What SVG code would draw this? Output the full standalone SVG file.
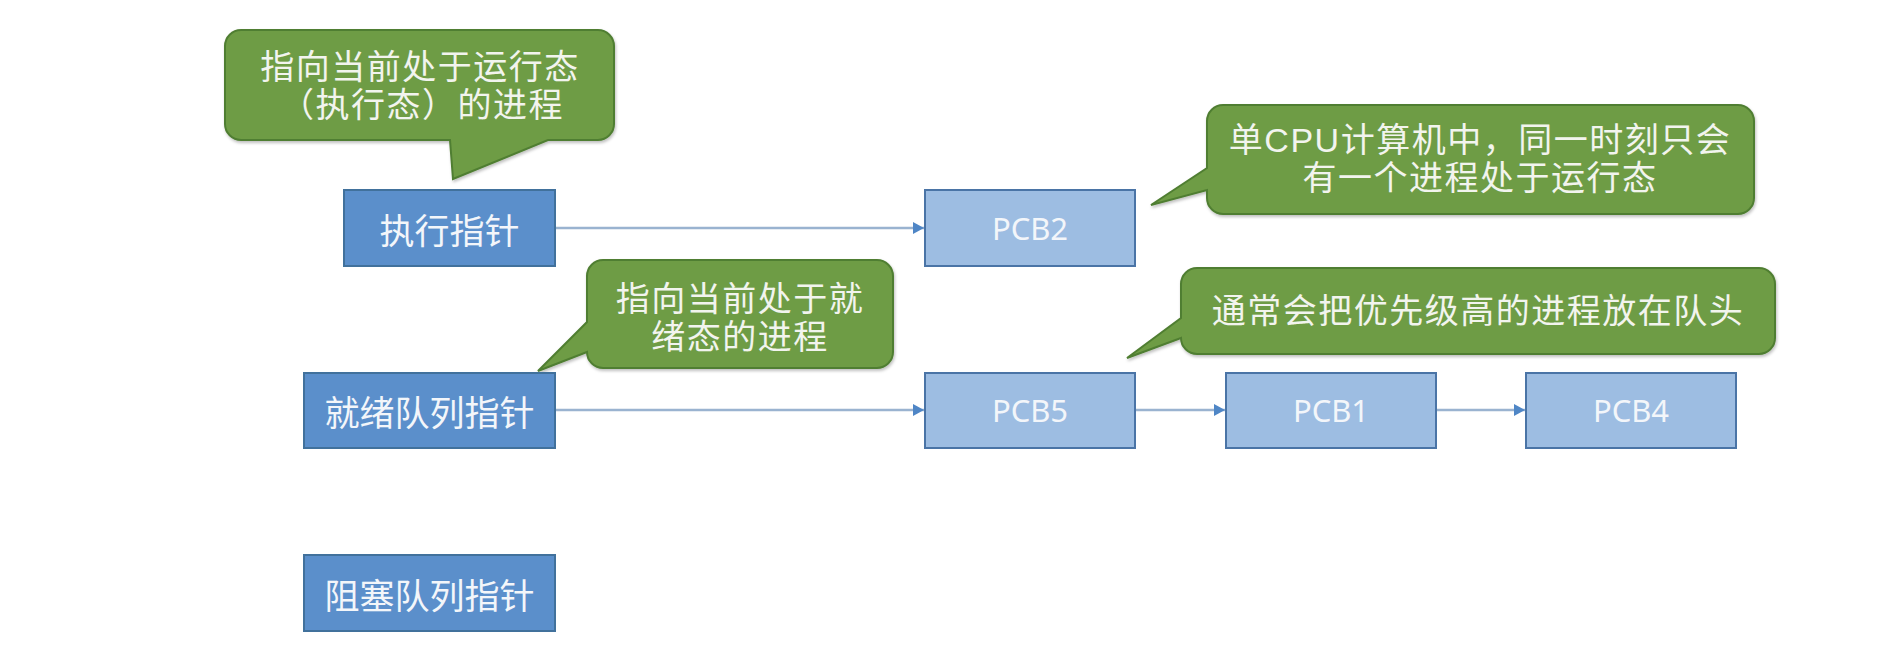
<svg xmlns="http://www.w3.org/2000/svg" width="1899" height="645" viewBox="0 0 1899 645">
<defs>
<marker id="ah" markerUnits="userSpaceOnUse" markerWidth="12" markerHeight="12" refX="11" refY="6" orient="auto">
<path d="M0,0 L11,6 L0,12 Z" fill="#4F86C6"/>
</marker>
<filter id="sh" x="-5%" y="-5%" width="110%" height="120%">
<feDropShadow dx="1" dy="2" stdDeviation="1.5" flood-color="#000" flood-opacity="0.25"/>
</filter>
<style>
.dark{fill:#5B8FCB;stroke:#41719C;stroke-width:2}
.light{fill:#9DBDE2;stroke:#4A74A6;stroke-width:2}
.bub{fill:#6E9C44;stroke:#507E32;stroke-width:2;filter:url(#sh)}
.t{font-family:"Noto Sans CJK SC","Noto Sans",sans-serif;font-size:35px;fill:#F3F6FA;text-anchor:middle;dominant-baseline:central}
.p{font-family:"Noto Sans","Noto Sans CJK SC",sans-serif;font-size:31px;fill:#F3F6FA;text-anchor:middle;dominant-baseline:central}
.bt{font-family:"Liberation Sans","Noto Sans CJK SC",sans-serif;font-size:34px;letter-spacing:1.5px;fill:#F2F4EE;text-anchor:middle;dominant-baseline:central}
.c{stroke:#9AB3D0;stroke-width:2.5;fill:none;marker-end:url(#ah)}
</style>
</defs>
<rect width="1899" height="645" fill="#FFFFFF"/>
<g id="connectors">
<line class="c" x1="556" y1="228" x2="924" y2="228"/>
<line class="c" x1="556" y1="410" x2="924" y2="410"/>
<line class="c" x1="1136" y1="410" x2="1225" y2="410"/>
<line class="c" x1="1437" y1="410" x2="1525" y2="410"/>
</g>
<g id="callout-run">
<path class="bub" d="M241,30 H598 A16,16 0 0 1 614,46 V124 A16,16 0 0 1 598,140 H548 L453,179 L450,140 H241 A16,16 0 0 1 225,124 V46 A16,16 0 0 1 241,30 Z"/>
<text class="bt" x="420" y="67">指向当前处于运行态</text>
<text class="bt" x="422" y="105">（执行态）的进程</text>
</g>
<g id="callout-ready">
<path class="bub" d="M603,260 H877 A16,16 0 0 1 893,276 V352 A16,16 0 0 1 877,368 H603 A16,16 0 0 1 587,352 L538,371 L587,322 V276 A16,16 0 0 1 603,260 Z"/>
<text class="bt" x="740" y="299">指向当前处于就</text>
<text class="bt" x="740" y="337">绪态的进程</text>
</g>
<g id="callout-cpu">
<path class="bub" d="M1223,105 H1738 A16,16 0 0 1 1754,121 V198 A16,16 0 0 1 1738,214 H1223 A16,16 0 0 1 1207,198 V190 L1151,205 L1207,168 V121 A16,16 0 0 1 1223,105 Z"/>
<text class="bt" x="1480" y="140">单CPU计算机中，同一时刻只会</text>
<text class="bt" x="1480" y="178">有一个进程处于运行态</text>
</g>
<g id="callout-priority">
<path class="bub" d="M1197,268 H1759 A16,16 0 0 1 1775,284 V338 A16,16 0 0 1 1759,354 H1197 A16,16 0 0 1 1181,338 L1127,358 L1181,318 V284 A16,16 0 0 1 1197,268 Z"/>
<text class="bt" x="1478" y="311">通常会把优先级高的进程放在队头</text>
</g>
<g id="exec-ptr">
<rect class="dark" x="344" y="190" width="211" height="76"/>
<text class="t" x="449.5" y="228">执行指针</text>
</g>
<g id="ready-ptr">
<rect class="dark" x="304" y="373" width="251" height="75"/>
<text class="t" x="429.5" y="410">就绪队列指针</text>
</g>
<g id="block-ptr">
<rect class="dark" x="304" y="555" width="251" height="76"/>
<text class="t" x="429.5" y="593">阻塞队列指针</text>
</g>
<g id="pcb2">
<rect class="light" x="925" y="190" width="210" height="76"/>
<text class="p" x="1030" y="228">PCB2</text>
</g>
<g id="pcb5">
<rect class="light" x="925" y="373" width="210" height="75"/>
<text class="p" x="1030" y="410">PCB5</text>
</g>
<g id="pcb1">
<rect class="light" x="1226" y="373" width="210" height="75"/>
<text class="p" x="1331" y="410">PCB1</text>
</g>
<g id="pcb4">
<rect class="light" x="1526" y="373" width="210" height="75"/>
<text class="p" x="1631" y="410">PCB4</text>
</g>
</svg>
